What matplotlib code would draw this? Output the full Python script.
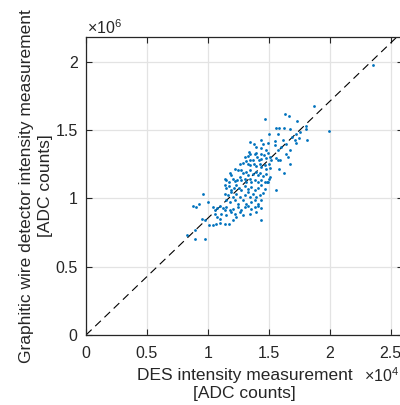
import matplotlib
matplotlib.use("Agg")
import matplotlib.pyplot as plt
from matplotlib.ticker import FuncFormatter

plt.rcParams['font.family'] = ['Liberation Sans', 'DejaVu Sans']
plt.rcParams['mathtext.fontset'] = 'custom'
plt.rcParams['mathtext.rm'] = 'Liberation Sans'

# DES intensity (x 1e4 ADC counts) and wire detector intensity (x 1e6 ADC counts)
des = [1.467, 1.633, 1.661, 1.729, 1.562, 1.579, 1.628, 1.672, 1.502, 1.576,
       1.721, 1.344, 1.439, 1.453, 1.491, 1.549, 1.617, 1.693, 1.715, 1.748,
       1.377, 1.398, 1.434, 1.336, 1.349, 1.385, 1.398, 1.439, 1.475, 1.494,
       1.549, 1.576, 1.603, 1.639, 1.672, 1.726, 1.303, 1.330, 1.349, 1.366,
       1.404, 1.420, 1.439, 1.458, 1.475, 1.508, 1.521, 1.560, 1.576, 1.590,
       1.644, 1.658, 1.672, 1.584, 1.625, 1.262, 1.284, 1.316, 1.330, 1.344,
       1.377, 1.393, 1.426, 1.439, 1.467, 1.475, 1.502, 1.513, 1.180, 1.193,
       1.221, 1.248, 1.275, 1.289, 1.316, 1.344, 1.366, 1.393, 1.412, 1.431,
       1.453, 1.480, 1.502, 1.513, 1.139, 1.152, 1.174, 1.207, 1.221, 1.240,
       1.262, 1.275, 1.303, 1.316, 1.330, 1.344, 1.357, 1.385, 1.412, 1.439,
       1.467, 1.494, 1.139, 1.152, 1.174, 1.193, 1.213, 1.234, 1.256, 1.275,
       1.303, 1.330, 1.357, 1.385, 1.412, 1.439, 1.467, 1.486, 1.557, 1.139,
       1.166, 1.193, 1.207, 1.234, 1.262, 1.303, 1.330, 1.344, 1.371, 1.398,
       1.426, 1.453, 1.152, 1.180, 1.221, 1.248, 1.289, 1.316, 1.357, 1.385,
       1.412, 1.439, 0.956, 0.879, 0.901, 0.928, 1.002, 1.043, 1.057, 1.076,
       1.098, 1.120, 1.139, 1.152, 1.180, 1.207, 1.248, 1.275, 1.303, 1.330,
       1.357, 1.385, 1.412, 1.439, 1.057, 1.111, 1.152, 1.193, 1.221, 1.262,
       1.289, 1.344, 1.398, 0.948, 0.975, 1.071, 1.098, 1.202, 1.234, 1.010,
       1.043, 1.065, 1.098, 1.139, 1.174, 1.439, 0.893, 0.825, 0.893, 0.975,
       1.869, 1.994, 2.355, 1.803, 1.803, 1.809, 1.754]
gwd = [1.581, 1.618, 1.603, 1.569, 1.515, 1.511, 1.511, 1.506, 1.467, 1.472,
       1.472, 1.411, 1.430, 1.394, 1.404, 1.416, 1.428, 1.452, 1.428, 1.443,
       1.394, 1.374, 1.365, 1.338, 1.321, 1.326, 1.331, 1.326, 1.350, 1.331,
       1.387, 1.350, 1.374, 1.394, 1.350, 1.404, 1.301, 1.306, 1.277, 1.282,
       1.301, 1.282, 1.287, 1.314, 1.297, 1.301, 1.277, 1.297, 1.277, 1.277,
       1.326, 1.301, 1.253, 1.216, 1.187, 1.253, 1.258, 1.272, 1.253, 1.241,
       1.253, 1.238, 1.253, 1.228, 1.241, 1.216, 1.253, 1.224, 1.185, 1.168,
       1.216, 1.204, 1.204, 1.185, 1.192, 1.204, 1.180, 1.192, 1.168, 1.185,
       1.160, 1.180, 1.143, 1.155, 1.143, 1.131, 1.119, 1.143, 1.126, 1.136,
       1.155, 1.131, 1.143, 1.119, 1.168, 1.143, 1.119, 1.131, 1.119, 1.136,
       1.119, 1.119, 1.095, 1.078, 1.087, 1.063, 1.078, 1.095, 1.078, 1.058,
       1.087, 1.070, 1.082, 1.063, 1.078, 1.095, 1.070, 1.119, 1.063, 1.034,
       1.022, 1.046, 1.009, 1.029, 1.009, 1.022, 1.046, 1.009, 1.034, 1.009,
       1.022, 1.039, 0.985, 0.973, 0.985, 0.961, 0.985, 0.961, 0.973, 0.985,
       0.961, 0.985, 1.034, 0.941, 0.936, 0.956, 0.973, 0.936, 0.917, 0.932,
       0.941, 0.932, 0.917, 0.936, 0.912, 0.924, 0.936, 0.912, 0.936, 0.941,
       0.924, 0.936, 0.941, 0.932, 0.888, 0.888, 0.876, 0.900, 0.888, 0.900,
       0.876, 0.888, 0.900, 0.851, 0.839, 0.863, 0.851, 0.839, 0.863, 0.803,
       0.803, 0.810, 0.820, 0.810, 0.810, 0.839, 0.766, 0.730, 0.705, 0.705,
       1.672, 1.496, 1.976, 1.526, 1.506, 1.428, 1.484]

x_scale = 1e4
y_scale = 1e6
x_lim = [0, 2.6]
y_lim = [0, 2.18]
x_ticks = [0, 0.5, 1, 1.5, 2, 2.5]
y_ticks = [0, 0.5, 1, 1.5, 2]
fit_slope = 85.5  # wire counts per DES count, dashed reference line

fig = plt.figure(figsize=(4, 4.05), dpi=100)
ax = fig.add_axes([86 / 400, 70 / 405, 317 / 400, 298 / 405])

ax.plot([0, x_lim[1] * x_scale], [0, fit_slope * x_lim[1] * x_scale],
        color='k', lw=0.8, linestyle=(0, (7, 4.5)), zorder=2)
ax.plot([v * x_scale for v in des], [v * y_scale for v in gwd], 'o',
        color='#0072BD', ms=2.0, mew=0, zorder=3)

ax.set_xlim(x_lim[0] * x_scale, x_lim[1] * x_scale)
ax.set_ylim(y_lim[0] * y_scale, y_lim[1] * y_scale)
ax.set_xticks([t * x_scale for t in x_ticks])
ax.set_yticks([t * y_scale for t in y_ticks])
ax.xaxis.set_major_formatter(FuncFormatter(lambda v, p: f'{v / x_scale:g}'))
ax.yaxis.set_major_formatter(FuncFormatter(lambda v, p: f'{v / y_scale:g}'))

ax.grid(True, color='#e3e3e3', lw=0.9)
ax.set_axisbelow(True)
for s in ax.spines.values():
    s.set_color('#262626')
    s.set_linewidth(0.9)
ax.tick_params(direction='in', top=True, right=True, length=4, width=0.8,
               color='#262626', labelcolor='#262626', labelsize=11.5)
ax.tick_params(axis='x', pad=8)
ax.tick_params(axis='y', pad=6)

ax.set_xlabel('DES intensity measurement\n[ADC counts]', fontsize=12.5,
              color='#262626', linespacing=1.25, labelpad=5)
ax.set_ylabel('Graphitic wire detector intensity measurement\n[ADC counts]',
              fontsize=12.5, color='#262626', linespacing=1.3, labelpad=2)

fig.text(87 / 400, 1 - 28 / 405, r'$\times10^{6}$', fontsize=11.5,
         color='#262626', ha='left', va='center')
fig.text(399 / 400, 1 - 376 / 405, r'$\times10^{4}$', fontsize=11.5,
         color='#262626', ha='right', va='center')

fig.savefig('out.png', dpi=100)
